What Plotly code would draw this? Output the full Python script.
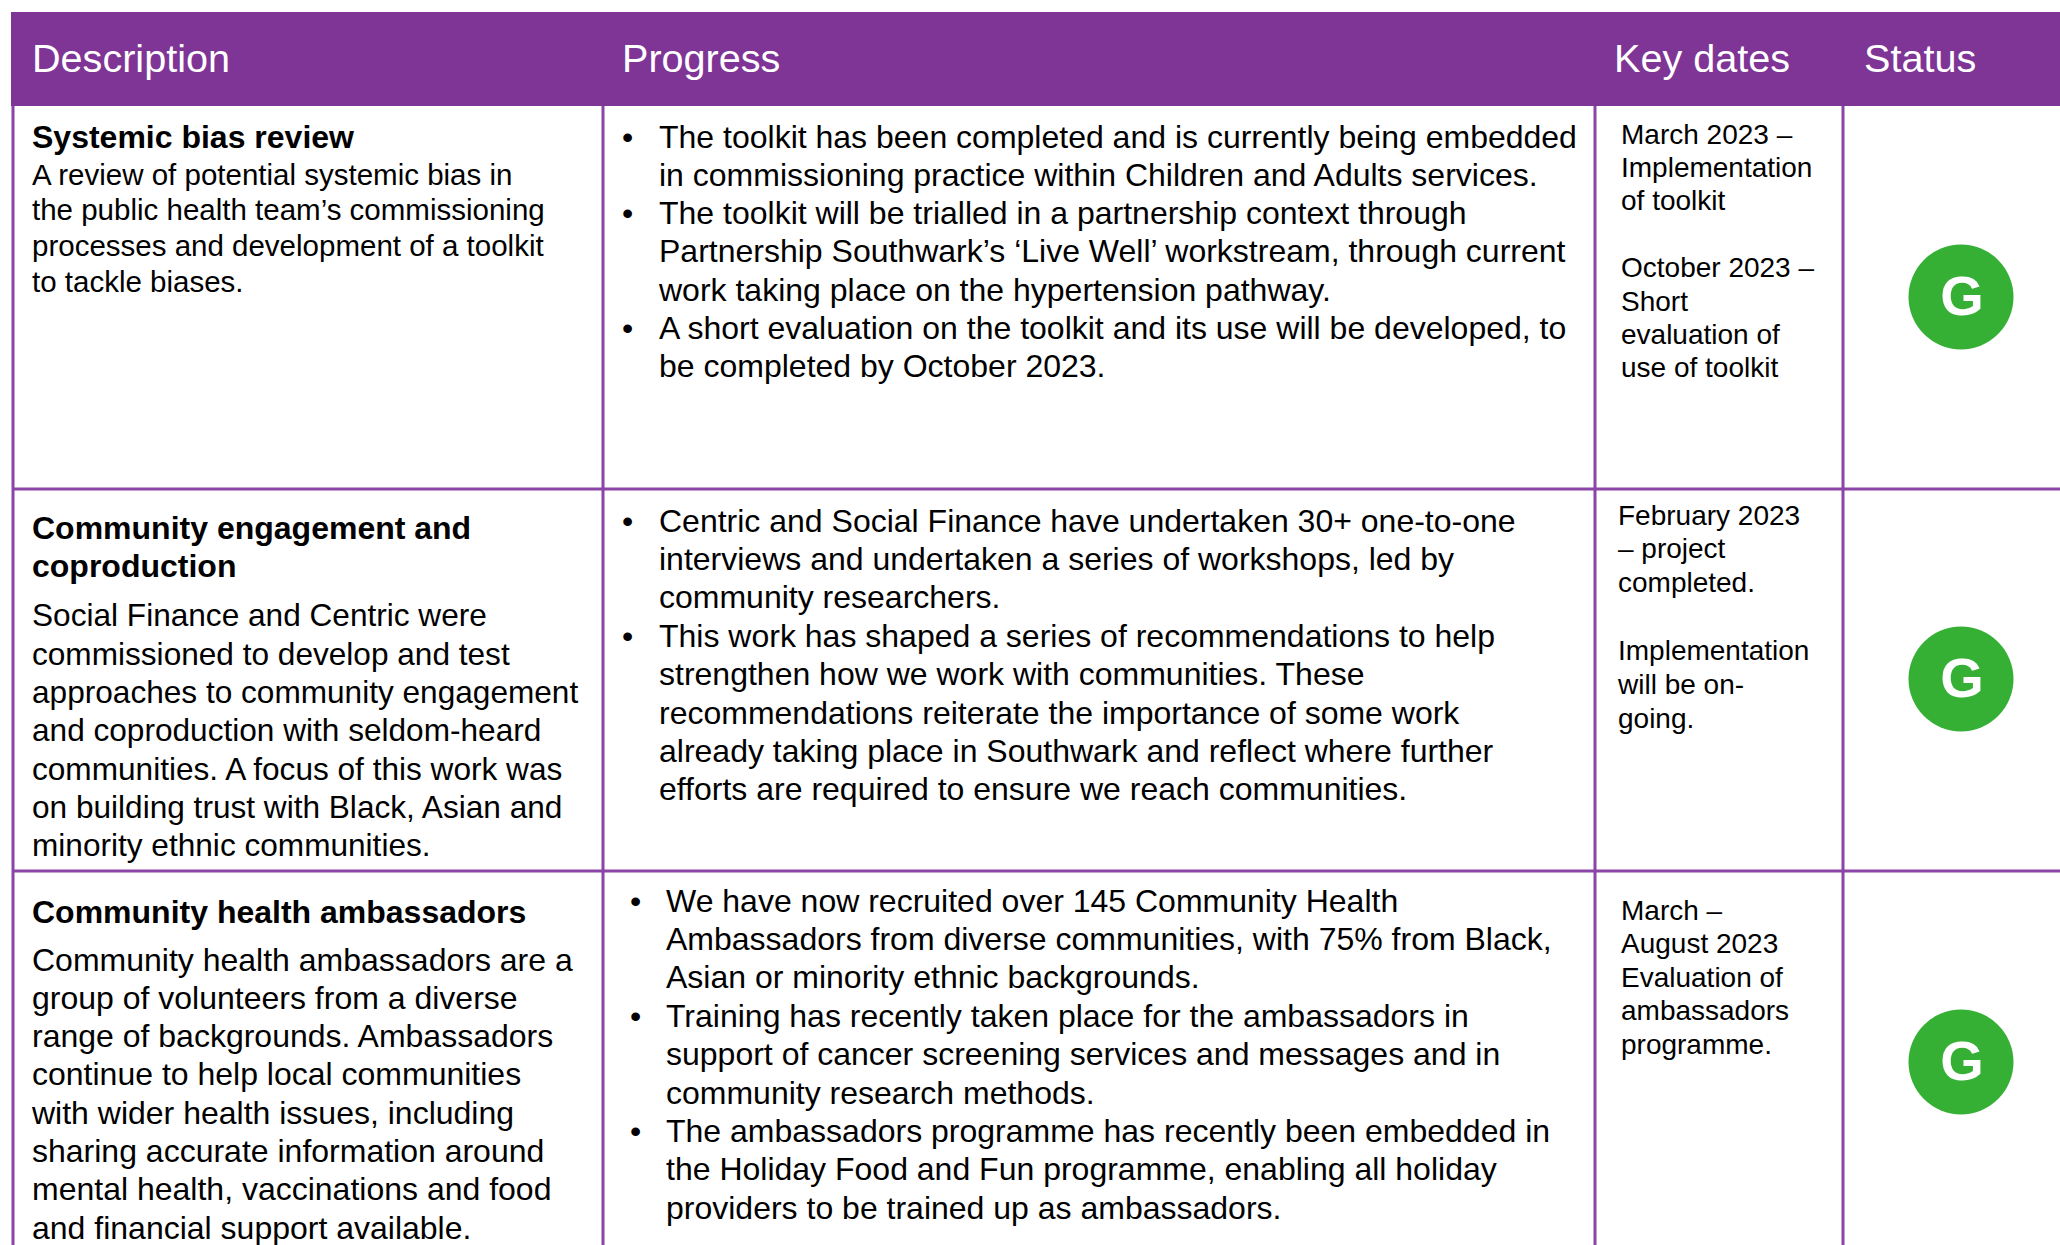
import plotly.graph_objects as go

W, H = 2060, 1245
FONT = "Liberation Sans"
PURPLE = "#7F3596"
LINE = "#8A45A6"
GREEN = "#35B035"

headers = ["Description", "Progress", "Key dates", "Status"]
header_x = [32, 622, 1614, 1864]
column_lines = [13, 603, 1595, 1843]
row_lines = [106, 489, 871]

titles = [
    ["Systemic bias review"],
    ["Community engagement and", "coproduction"],
    ["Community health ambassadors"],
]
descriptions = [
    ["A review of potential systemic bias in",
     "the public health team’s commissioning",
     "processes and development of a toolkit",
     "to tackle biases."],
    ["Social Finance and Centric were",
     "commissioned to develop and test",
     "approaches to community engagement",
     "and coproduction with seldom-heard",
     "communities. A focus of this work was",
     "on building trust with Black, Asian and",
     "minority ethnic communities."],
    ["Community health ambassadors are a",
     "group of volunteers from a diverse",
     "range of backgrounds. Ambassadors",
     "continue to help local communities",
     "with wider health issues, including",
     "sharing accurate information around",
     "mental health, vaccinations and food",
     "and financial support available."],
]
progress = [
    ["•The toolkit has been completed and is currently being embedded",
     "in commissioning practice within Children and Adults services.",
     "•The toolkit will be trialled in a partnership context through",
     "Partnership Southwark’s ‘Live Well’ workstream, through current",
     "work taking place on the hypertension pathway.",
     "•A short evaluation on the toolkit and its use will be developed, to",
     "be completed by October 2023."],
    ["•Centric and Social Finance have undertaken 30+ one-to-one",
     "interviews and undertaken a series of workshops, led by",
     "community researchers.",
     "•This work has shaped a series of recommendations to help",
     "strengthen how we work with communities. These",
     "recommendations reiterate the importance of some work",
     "already taking place in Southwark and reflect where further",
     "efforts are required to ensure we reach communities."],
    ["•We have now recruited over 145 Community Health",
     "Ambassadors from diverse communities, with 75% from Black,",
     "Asian or minority ethnic backgrounds.",
     "•Training has recently taken place for the ambassadors in",
     "support of cancer screening services and messages and in",
     "community research methods.",
     "•The ambassadors programme has recently been embedded in",
     "the Holiday Food and Fun programme, enabling all holiday",
     "providers to be trained up as ambassadors."],
]
key_dates = [
    ["March 2023 –", "Implementation", "of toolkit", "",
     "October 2023 –", "Short", "evaluation of", "use of toolkit"],
    ["February 2023", "– project", "completed.", "",
     "Implementation", "will be on-", "going."],
    ["March –", "August 2023", "Evaluation of", "ambassadors", "programme."],
]
status = ["G", "G", "G"]

# layout of each block: first-line centre y and line pitch, in page pixels
header_y = 62
title_y = [139.5, 530.5, 914.5]
title_pitch = 38.2
desc_y = [177.5, 618.5, 962.5]
desc_pitch = [35.6, 38.3, 38.3]
desc_size = [29.5, 31.6, 32]
prog_y = [139.5, 523.5, 903.5]
prog_pitch = [38.3, 38.4, 38.4]
prog_text_x = [659, 659, 666]
prog_bullet_x = [622, 622, 630]
date_y = [136.5, 517.5, 912.5]
date_pitch = [33.4, 33.9, 33.6]
date_x = [1621, 1618, 1621]
status_x = 1961
status_y = [297, 679, 1062]
status_text_nudge = 3.5


def collect(blocks, tops, pitches, xs):
    xv, yv, tv = [], [], []
    for block, top, pitch, x in zip(blocks, tops, pitches, xs):
        for i, line in enumerate(block):
            if line:
                xv.append(x)
                yv.append(top + i * pitch)
                tv.append(line)
    return xv, yv, tv


def text_trace(x, y, text, size, color="black", bold=False, pos="middle right"):
    return go.Scatter(
        x=x, y=y, text=text, mode="text", textposition=pos, hoverinfo="skip",
        showlegend=False,
        textfont=dict(family=FONT, size=size, color=color,
                      weight="bold" if bold else "normal"),
    )


fig = go.Figure()

# shapes: header band and grid
shapes = [dict(type="rect", xref="x", yref="y", x0=11, x1=W, y0=12, y1=106,
               fillcolor=PURPLE, line=dict(width=0), layer="below")]
for x in column_lines:
    shapes.append(dict(type="line", xref="x", yref="y", x0=x, x1=x, y0=106, y1=H,
                       line=dict(color=LINE, width=3), layer="below"))
for y in row_lines[1:]:
    shapes.append(dict(type="line", xref="x", yref="y", x0=12, x1=W, y0=y, y1=y,
                       line=dict(color=LINE, width=3), layer="below"))

# header
fig.add_trace(text_trace(header_x, [header_y] * 4, headers, 39.6, color="white"))

# titles
x, y, t = collect(titles, title_y, [title_pitch] * 3, [32] * 3)
fig.add_trace(text_trace(x, y, t, 32, bold=True))

# descriptions, one trace per cell because the source sets them at slightly different sizes
for b in range(3):
    x, y, t = collect(descriptions[b:b + 1], desc_y[b:b + 1], desc_pitch[b:b + 1], [32])
    fig.add_trace(text_trace(x, y, t, desc_size[b]))

# progress
px, py, pt, bx, by = [], [], [], [], []
for block, top, pitch, tx, bullet_x in zip(progress, prog_y, prog_pitch, prog_text_x, prog_bullet_x):
    for i, line in enumerate(block):
        ypos = top + i * pitch
        if line.startswith("•"):
            bx.append(bullet_x)
            by.append(ypos)
            line = line[1:]
        px.append(tx)
        py.append(ypos)
        pt.append(line)
fig.add_trace(text_trace(px, py, pt, 32))
fig.add_trace(text_trace(bx, by, ["•"] * len(bx), 32))

# key dates
x, y, t = collect(key_dates, date_y, date_pitch, date_x)
fig.add_trace(text_trace(x, y, t, 28))

# status
fig.add_trace(go.Scatter(
    x=[status_x] * 3, y=status_y, mode="markers", hoverinfo="skip", showlegend=False,
    marker=dict(size=105, color=GREEN, line=dict(width=0)),
))
fig.add_trace(text_trace([status_x + 1] * 3, [v + status_text_nudge for v in status_y],
                         status, 56, color="white", bold=True, pos="middle center"))

fig.update_layout(
    width=W, height=H, margin=dict(l=0, r=0, t=0, b=0),
    paper_bgcolor="white", plot_bgcolor="white", shapes=shapes,
    xaxis=dict(range=[0, W], visible=False, fixedrange=True),
    yaxis=dict(range=[H, 0], visible=False, fixedrange=True),
)
fig.write_html("out.html", config={"displayModeBar": False},
               post_script="document.body.style.margin='0';document.documentElement.style.overflow='hidden';")
